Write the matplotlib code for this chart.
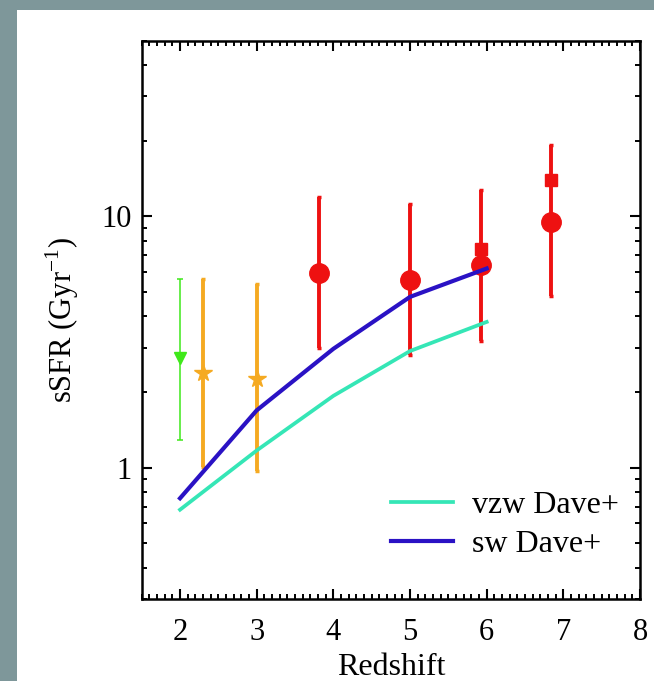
import matplotlib
matplotlib.use("Agg")
import matplotlib.pyplot as plt
from matplotlib.patches import Rectangle
from matplotlib.ticker import LogLocator, FixedLocator, NullFormatter, MultipleLocator

# ---- data ----
z_lines = [2, 3, 4, 5, 6]
vzw = [0.68, 1.17, 1.93, 2.91, 3.80]
sw = [0.755, 1.69, 2.97, 4.78, 6.2]

green_z = [2.0]
green_y = [2.73]
green_lo = [1.29]
green_hi = [5.62]

orange_z = [2.3, 3.0]
orange_y = [2.37, 2.26]
orange_lo = [1.01, 0.97]
orange_hi = [5.62, 5.40]

red_z = [3.81, 5.0, 5.93, 6.84]
red_y = [5.95, 5.57, 6.38, 9.49]
red_lo = [2.99, 2.80, 3.18, 4.81]
red_hi = [11.9, 11.2, 12.7, 19.2]

sq_z = [5.93, 6.84]
sq_y = [7.39, 13.9]

xticks = [2, 3, 4, 5, 6, 7, 8]
yticks = [1, 10]
yticklabels = ["1", "10"]

# ---- figure ----
W, H = 654, 681
fig = plt.figure(figsize=(W / 100, H / 100), dpi=100)
fig.patch.set_facecolor("#7e979a")
fig.patches.append(Rectangle((17 / W, 0), 1 - 17 / W, 1 - 9.5 / H,
                             transform=fig.transFigure, facecolor="white",
                             edgecolor="none", zorder=-10))

ax = fig.add_axes([141.7 / W, 1 - 599 / H, (640 - 141.7) / W, (599 - 40.7) / H])
ax.set_facecolor("white")
ax.set_yscale("log")
ax.set_xlim(1.5, 8)
ax.set_ylim(0.3, 50)

serif = ["Liberation Serif", "DejaVu Serif"]

def err(y, lo, hi):
    return [[a - b for a, b in zip(y, lo)], [b - a for a, b in zip(y, hi)]]

ax.errorbar(green_z, green_y, yerr=err(green_y, green_lo, green_hi), fmt="v",
            color="#3fe81a", ms=8.5, elinewidth=1.1, capsize=2.5, capthick=1.1, zorder=3)
ax.errorbar(orange_z, orange_y, yerr=err(orange_y, orange_lo, orange_hi), fmt="*",
            color="#f5aa22", ms=13, elinewidth=2.8, capsize=1.5, capthick=2.5, zorder=3)
ax.errorbar(red_z, red_y, yerr=err(red_y, red_lo, red_hi), fmt="o",
            color="#ee1111", ms=14, elinewidth=2.8, capsize=1.5, capthick=2.5, zorder=3)
ax.plot(sq_z, sq_y, "s", color="#ee1111", ms=9, zorder=3)

ax.plot(z_lines, vzw, color="#35e6b6", lw=2.7, label="vzw Dave+", zorder=4)
ax.plot(z_lines, sw, color="#2a12c4", lw=3.0, label="sw Dave+", zorder=4)

leg = ax.legend(loc="lower right", frameon=False, prop={"family": serif, "size": 23},
                handlelength=1.95, handletextpad=0.6, labelspacing=0.3,
                borderpad=0, borderaxespad=0,
                bbox_to_anchor=(0.958, 0.072))

# ---- ticks ----
ax.xaxis.set_major_locator(FixedLocator(xticks))
ax.xaxis.set_minor_locator(MultipleLocator(0.1))
ax.set_xticklabels([str(t) for t in xticks])
ax.yaxis.set_major_locator(FixedLocator(yticks))
ax.set_yticklabels(yticklabels)
ax.yaxis.set_minor_locator(LogLocator(base=10, subs=range(2, 10)))
ax.yaxis.set_minor_formatter(NullFormatter())

ax.tick_params(which="both", direction="in", top=True, right=True, color="black")
ax.tick_params(which="major", length=7.5, width=1.5, labelsize=22)
ax.tick_params(which="minor", length=3.6, width=1.4)
ax.tick_params(axis="x", which="major", pad=14)
ax.tick_params(axis="y", which="major", pad=7)
for lab in ax.get_xticklabels() + ax.get_yticklabels():
    lab.set_family(serif)

for s in ax.spines.values():
    s.set_linewidth(1.8)

ax.set_xlabel("Redshift", family=serif, fontsize=23, labelpad=4)
ax.set_ylabel("sSFR (Gyr$^{\\mathregular{-1}}$)", family=serif, fontsize=22, labelpad=15)

fig.savefig("out.png", dpi=100, facecolor=fig.get_facecolor())
